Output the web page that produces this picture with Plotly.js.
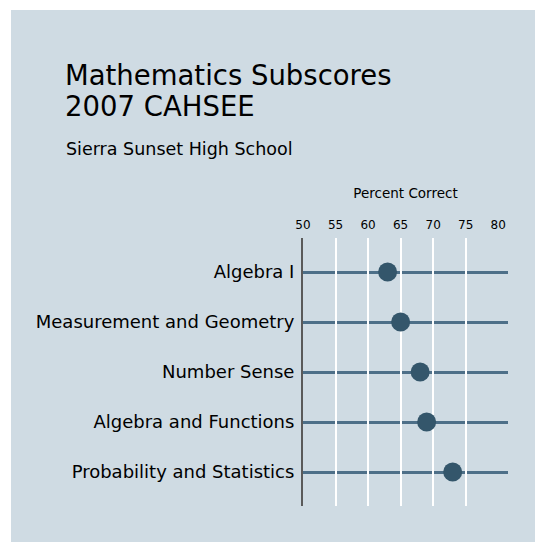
<!DOCTYPE html>
<html>
<head>
<meta charset="utf-8">
<script src="https://cdn.plot.ly/plotly-3.0.1.min.js"></script>
<style>html,body{margin:0;padding:0;background:#fff;}#chart{width:535px;height:542px;}</style>
</head>
<body>
<div id="chart"></div>
<script>
const categories = ["Algebra I", "Measurement and Geometry", "Number Sense", "Algebra and Functions", "Probability and Statistics"];
const percentCorrect = [63, 65, 68, 69, 73];
const xTickVals = [50, 55, 60, 65, 70, 75, 80];
const gridVals = [55, 60, 65, 70, 75];
const titleLines = ["Mathematics Subscores", "2007 CAHSEE"];
const subtitle = "Sierra Sunset High School";

const W = 535, H = 542;
const L = 303, R = 27, T = 238, B = 36;
const PW = W - L - R, PH = H - T - B;
const FONT = "DejaVu Sans, sans-serif";
const px = x => (x - L) / PW;
const py = y => 1 + (T - y) / PH;

const trace = {
  type: 'scatter', mode: 'markers',
  x: percentCorrect, y: categories,
  marker: {size: 19, color: '#34566b'},
  hoverinfo: 'x+y', showlegend: false
};
const gridTrace = {
  type: 'scatter', mode: 'markers', x: [], y: [], xaxis: 'x2', yaxis: 'y', showlegend: false, hoverinfo: 'skip'
};

const layout = {
  width: W, height: H,
  margin: {l: L, r: R, t: T, b: B, pad: 0},
  paper_bgcolor: '#ffffff',
  plot_bgcolor: 'rgba(0,0,0,0)',
  font: {family: FONT, color: '#000'},
  annotations: [
    {text: titleLines[0], showarrow: false, xref: 'paper', yref: 'paper',
     x: px(64), xanchor: 'left', y: py(74.5), yanchor: 'middle', borderpad: 0,
     font: {family: FONT, size: 27.5, color: '#000'}},
    {text: titleLines[1], showarrow: false, xref: 'paper', yref: 'paper',
     x: px(64), xanchor: 'left', y: py(106.5), yanchor: 'middle', borderpad: 0,
     font: {family: FONT, size: 27.5, color: '#000'}},
    {text: subtitle, showarrow: false, xref: 'paper', yref: 'paper',
     x: px(64), xanchor: 'left', y: py(148.5), yanchor: 'middle',
     font: {family: FONT, size: 17.5, color: '#000'}}
  ],
  xaxis: {
    side: 'top', range: [50, 81.5],
    tickvals: xTickVals, ticks: '', showgrid: false, zeroline: false,
    tickfont: {family: FONT, size: 12, color: '#000'},
    ticklabelstandoff: 6,
    title: {text: 'Percent Correct', font: {family: FONT, size: 13.5, color: '#000'}, standoff: 15},
    fixedrange: true
  },
  xaxis2: {
    overlaying: 'x', side: 'bottom', range: [50, 81.5],
    tickvals: gridVals, showticklabels: false, ticks: '',
    showgrid: true, gridcolor: '#ffffff', gridwidth: 2, zeroline: false,
    fixedrange: true
  },
  yaxis: {
    type: 'category', range: [4.68, -0.68],
    showgrid: true, gridcolor: '#4d6f88', gridwidth: 3,
    showline: true, linecolor: '#5a5a5a', linewidth: 2,
    ticks: '', ticklabelstandoff: 3,
    tickfont: {family: FONT, size: 18, color: '#000'},
    zeroline: false, fixedrange: true
  },
  shapes: [{
    type: 'rect', layer: 'below',
    xref: 'paper', yref: 'paper',
    x0: px(11), x1: px(W + 5),
    y0: -(B + 5) / PH, y1: py(10),
    fillcolor: '#cfdbe3', line: {width: 0}
  }]
};

Plotly.newPlot('chart', [gridTrace, trace], layout, {displayModeBar: false, staticPlot: true});
</script>
</body>
</html>
